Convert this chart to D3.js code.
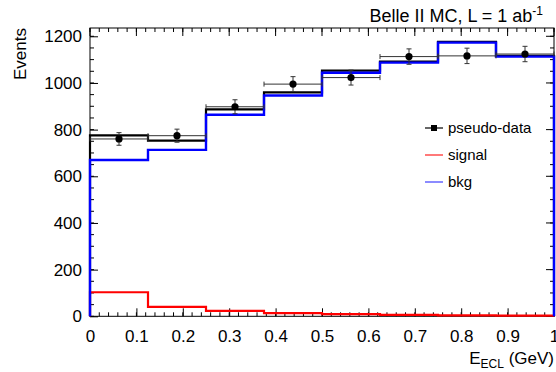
<!DOCTYPE html>
<html><head><meta charset="utf-8">
<script src="https://cdn.jsdelivr.net/npm/d3@7"></script>
<style>
html,body{margin:0;padding:0;background:#fff;}
svg{display:block;font-family:"Liberation Sans",Arial,Helvetica,sans-serif;}
</style></head>
<body><svg id="c" width="556" height="372"></svg>
<script>
// ---- data ----
const binEdges = [0, 0.125, 0.25, 0.375, 0.5, 0.625, 0.75, 0.875, 1.0];
const totalMC  = [775, 753, 887, 960, 1053, 1092, 1176, 1116];
const bkg      = [670, 713, 864, 946, 1044, 1087, 1173, 1113];
const signal   = [103, 40, 23, 14, 9, 6, 4, 3];
const dataVals = [760, 774, 898, 995, 1023, 1113, 1116, 1124];
const dataErr  = [27, 28, 30, 32, 32, 33, 33, 33];
const xTicks   = [0, 0.1, 0.2, 0.3, 0.4, 0.5, 0.6, 0.7, 0.8, 0.9, 1];
const xTickLabels = ["0","0.1","0.2","0.3","0.4","0.5","0.6","0.7","0.8","0.9","1"];
const yTicks   = [0, 200, 400, 600, 800, 1000, 1200];
const yTickLabels = ["0","200","400","600","800","1000","1200"];
const legendItems = ["pseudo-data", "signal", "bkg"];

const svg = d3.select("#c");
const L = 90, R = 554, T = 28, B = 316.3;
const x = d3.scaleLinear().domain([0, 1]).range([L, R]);
const y = d3.scaleLinear().domain([0, 1235.5]).range([B, T]);

// frame axes with inner ticks (ROOT style)
const fs = 17;
const xAxisB = d3.axisBottom(x).tickValues(xTicks).tickFormat((d,i)=>xTickLabels[i]).tickSizeInner(-8).tickSizeOuter(0).tickPadding(14);
const gxb = svg.append("g").attr("transform", `translate(0,${B})`).call(xAxisB);
gxb.selectAll("text").attr("font-size", fs).attr("fill", "#000").attr("font-family","Liberation Sans, Arial, sans-serif");
const xMinor = d3.range(0, 1.0001, 0.02);
svg.append("g").selectAll("line").data(xMinor).join("line")
  .attr("x1", d=>x(d)).attr("x2", d=>x(d)).attr("y1", B).attr("y2", B-4).attr("stroke","#000");
svg.append("g").selectAll("line").data(xMinor).join("line")
  .attr("x1", d=>x(d)).attr("x2", d=>x(d)).attr("y1", T).attr("y2", T+4).attr("stroke","#000");
svg.append("g").selectAll("line").data(xTicks).join("line")
  .attr("x1", d=>x(d)).attr("x2", d=>x(d)).attr("y1", T).attr("y2", T+8).attr("stroke","#000");

const yAxisL = d3.axisLeft(y).tickValues(yTicks).tickFormat((d,i)=>yTickLabels[i]).tickSizeInner(-8).tickSizeOuter(0).tickPadding(8);
const gyl = svg.append("g").attr("transform", `translate(${L},0)`).call(yAxisL);
gyl.selectAll("text").attr("font-size", fs).attr("fill", "#000").attr("font-family","Liberation Sans, Arial, sans-serif");
const yMinor = d3.range(0, 1201, 50);
svg.append("g").selectAll("line").data(yMinor).join("line")
  .attr("x1", L).attr("x2", L+4).attr("y1", d=>y(d)).attr("y2", d=>y(d)).attr("stroke","#000");
svg.append("g").selectAll("line").data(yMinor).join("line")
  .attr("x1", R).attr("x2", R-4).attr("y1", d=>y(d)).attr("y2", d=>y(d)).attr("stroke","#000");
svg.append("g").selectAll("line").data(yTicks).join("line")
  .attr("x1", R).attr("x2", R-8).attr("y1", d=>y(d)).attr("y2", d=>y(d)).attr("stroke","#000");
svg.selectAll(".domain").remove();
svg.append("rect").attr("x", L).attr("y", T).attr("width", R-L).attr("height", B-T)
  .attr("fill","none").attr("stroke","#000").attr("stroke-width",1);

// histogram outlines
function histPts(vals){
  const pts = [[binEdges[0], 0]];
  vals.forEach((v,i)=>{ pts.push([binEdges[i], v]); pts.push([binEdges[i+1], v]); });
  pts.push([binEdges[binEdges.length-1], 0]);
  return pts;
}
const line = d3.line().x(d=>x(d[0])).y(d=>y(d[1]));
svg.append("path").attr("d", line(histPts(totalMC))).attr("fill","none").attr("stroke","#000").attr("stroke-width",2.2);
svg.append("path").attr("d", line(histPts(signal))).attr("fill","none").attr("stroke","#ff0000").attr("stroke-width",2.2);
svg.append("path").attr("d", line(histPts(bkg))).attr("fill","none").attr("stroke","#0000ff").attr("stroke-width",2.4);

// pseudo-data points
const dg = svg.append("g");
dataVals.forEach((v,i)=>{
  const x0 = x(binEdges[i]), x1 = x(binEdges[i+1]), xc = (x0+x1)/2;
  const yc = y(v), yt = y(v+dataErr[i]), yb = y(v-dataErr[i]);
  const add = (a,b,c,d)=>dg.append("line").attr("x1",a).attr("y1",b).attr("x2",c).attr("y2",d).attr("stroke","#333").attr("stroke-width",1);
  add(x0, yc, x1, yc);
  add(x0, yc-2.5, x0, yc+2.5);
  add(x1, yc-2.5, x1, yc+2.5);
  add(xc, yt, xc, yb);
  add(xc-2.5, yt, xc+2.5, yt);
  add(xc-2.5, yb, xc+2.5, yb);
  dg.append("circle").attr("cx", xc).attr("cy", yc).attr("r", 3.6).attr("fill","#000");
});

// legend
const lg = svg.append("g");
const ly = [128, 155, 182];
const lcol = ["#000", "#ff4040", "#5a5aff"];
legendItems.forEach((t,i)=>{
  lg.append("line").attr("x1",425).attr("x2",443).attr("y1",ly[i]).attr("y2",ly[i]).attr("stroke",lcol[i]).attr("stroke-width", i===0?1.2:1.4);
  if(i===0) lg.append("rect").attr("x",431).attr("y",ly[i]-3).attr("width",6).attr("height",6).attr("fill","#000");
  lg.append("text").attr("x",448).attr("y",ly[i]).attr("dy","0.35em").attr("font-size",15).text(t);
});

// title
const tt = svg.append("text").attr("x", 543).attr("y", 21.5).attr("text-anchor","end").attr("font-size",18);
tt.append("tspan").text("Belle II MC, L = 1 ab");
tt.append("tspan").attr("font-size",12).attr("dy",-7).text("-1");

// axis titles
const xt = svg.append("text").attr("x", 554).attr("y", 364).attr("text-anchor","end").attr("font-size",17);
xt.append("tspan").text("E");
xt.append("tspan").attr("font-size",12).attr("dy",4).text("ECL");
xt.append("tspan").attr("dy",-4).text(" (GeV)");
svg.append("text").attr("transform","translate(26,28) rotate(-90)").attr("text-anchor","end").attr("font-size",17).text("Events");
</script></body></html>
